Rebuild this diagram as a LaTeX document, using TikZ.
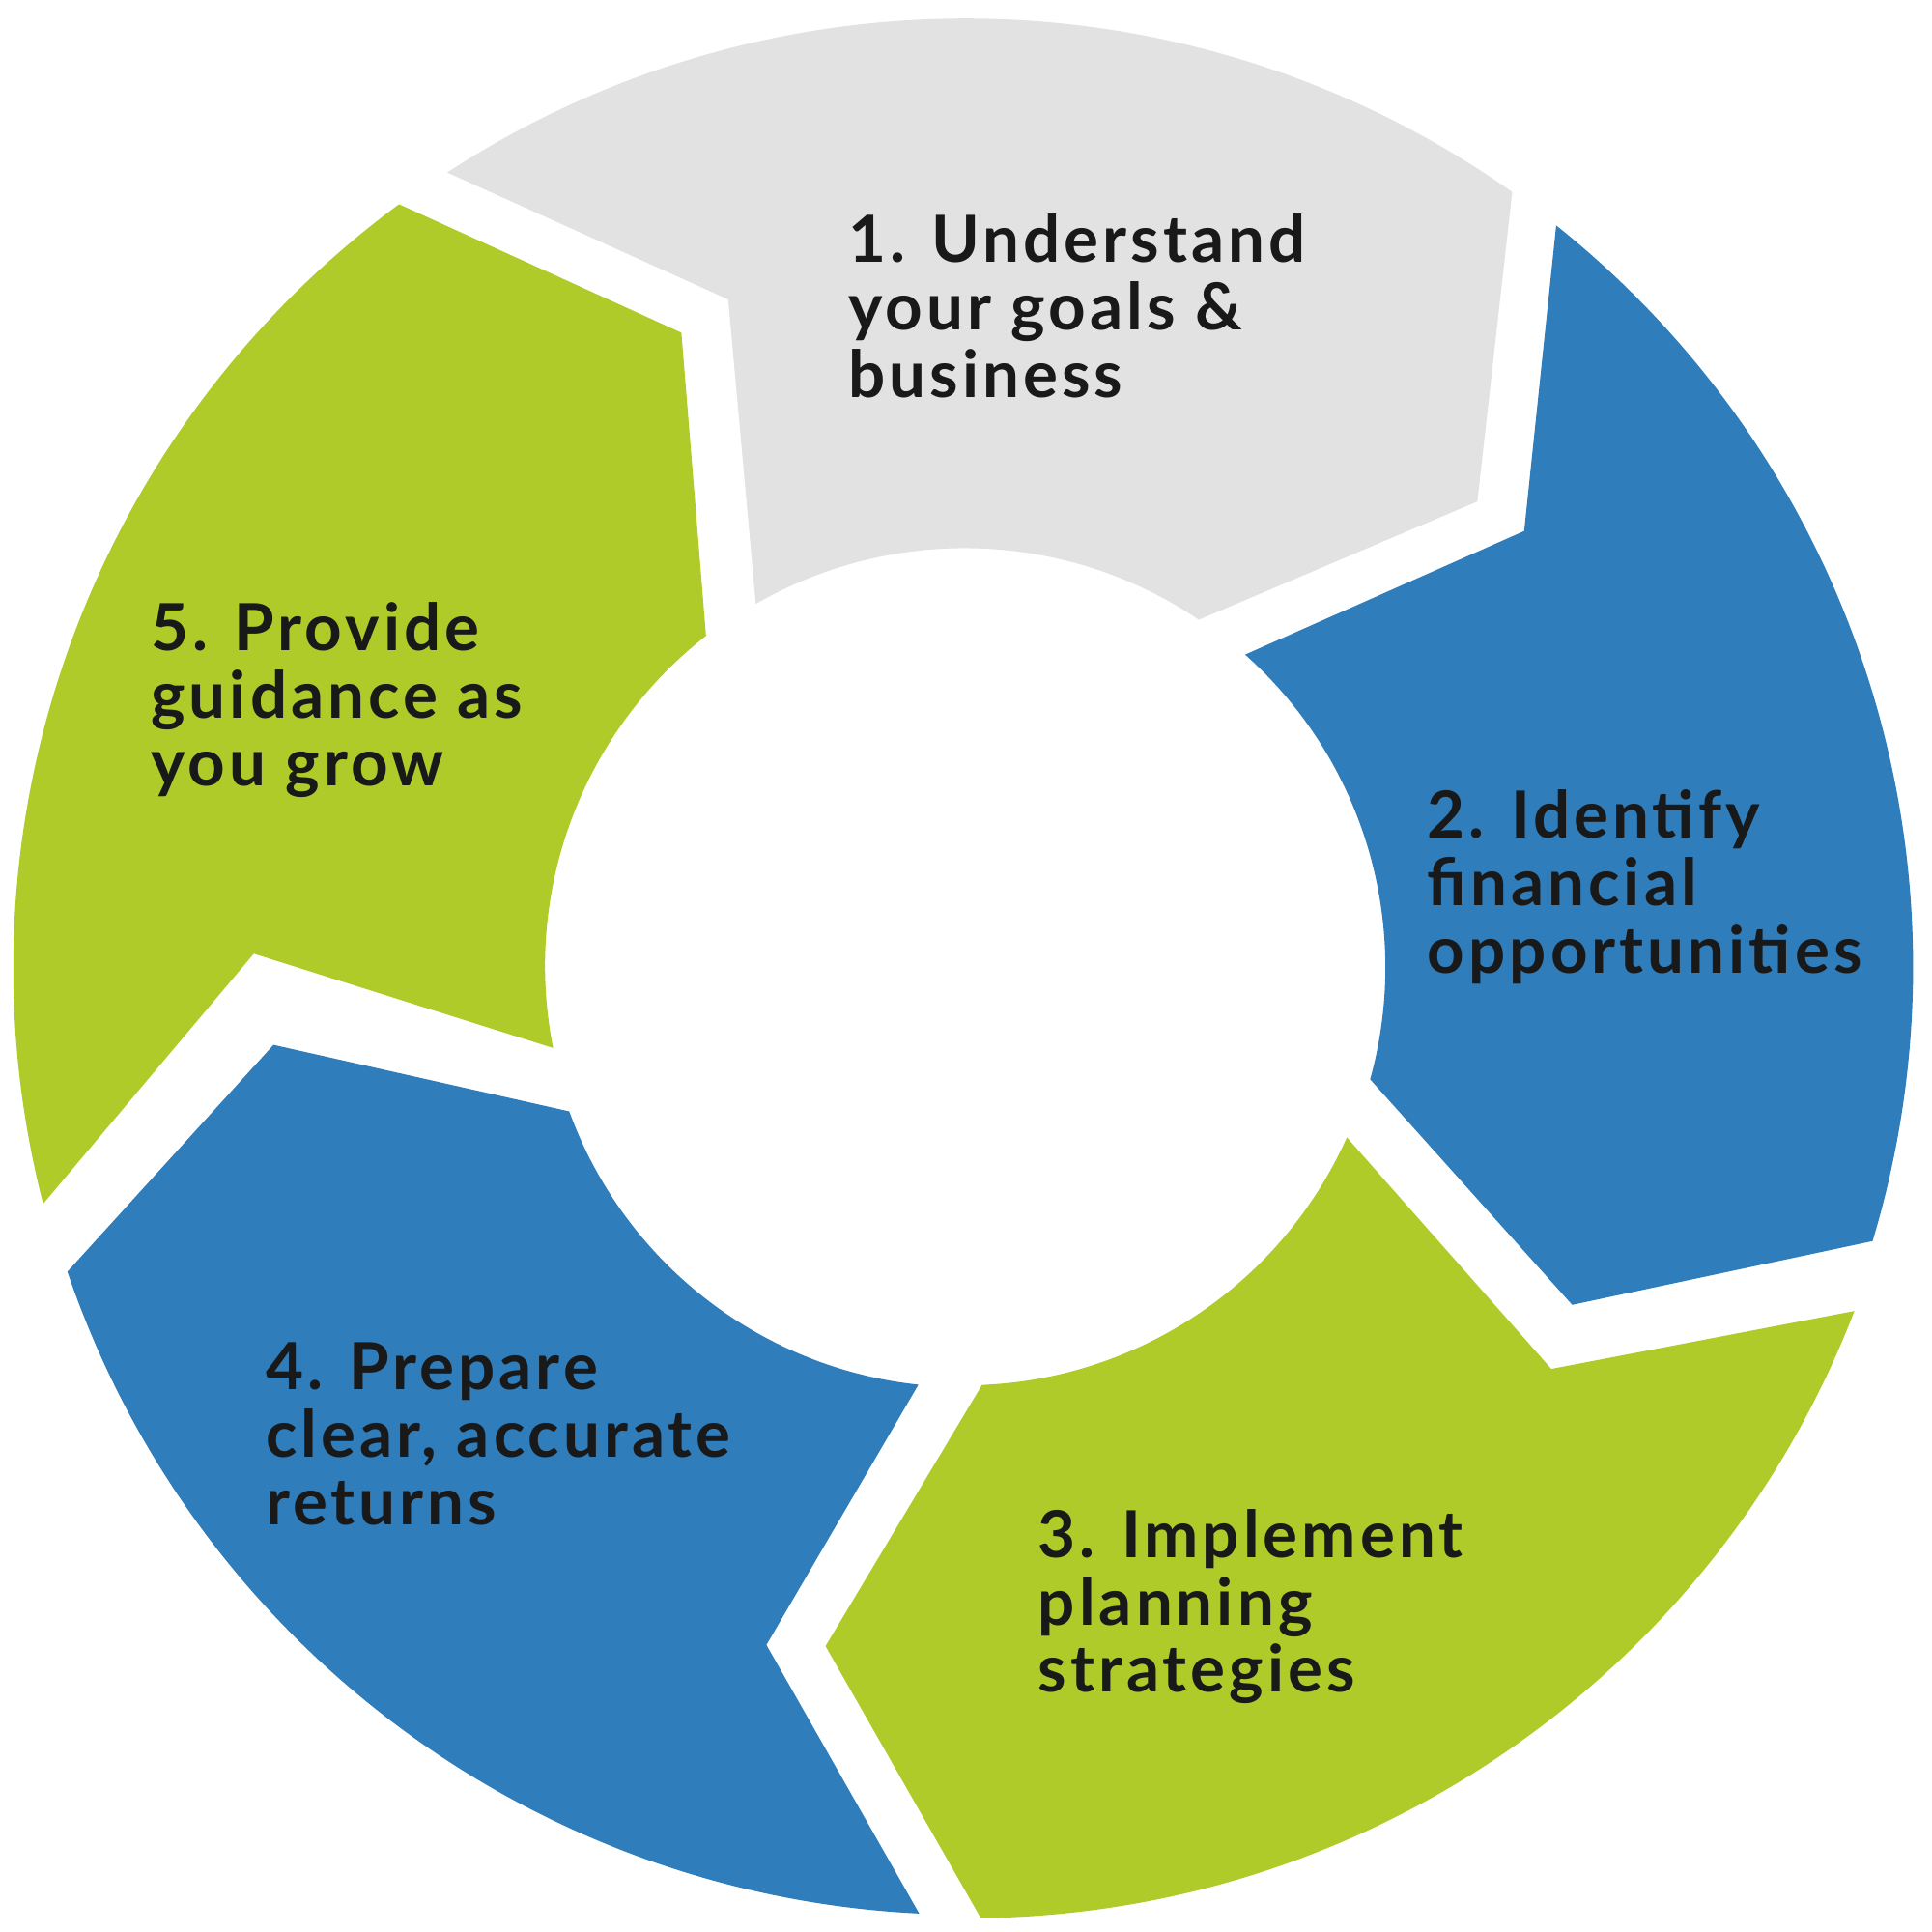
\documentclass[tikz,border=0pt]{standalone}
\usepackage{fontspec}
\setmainfont{Lato}[LetterSpace=6]
\definecolor{segGray}{HTML}{E2E2E2}
\definecolor{segBlue}{HTML}{2F7DBB}
\definecolor{segGreen}{HTML}{AFCB29}
\tikzset{
  steplabel/.style={anchor=north west,inner sep=0pt,align=left,
    font=\fontsize{15pt}{15.6pt}\selectfont\bfseries,text=black!90}
}
\begin{document}
\begin{tikzpicture}
  \useasboundingbox (-7.83,-7.83) rectangle (7.85,7.85);
  % segments
  \fill[segGray] (-4.20,6.45) arc[start angle=123.1,end angle=54.8,radius=7.7]
    -- (4.16,3.78) -- (1.90,2.82) arc[start angle=56.0,end angle=119.9,radius=3.4]
    -- (-1.92,5.42) -- cycle;
  \fill[segBlue] (4.80,6.02) arc[start angle=51.4,end angle=-16.8,radius=7.7]
    -- (4.93,-2.74) -- (3.29,-0.91) arc[start angle=-15.5,end angle=48.3,radius=3.4]
    -- (4.54,3.54) -- cycle;
  \fill[segGreen] (7.22,-2.79) arc[start angle=-21.1,end angle=-89.3,radius=7.7]
    -- (-1.13,-5.51) -- (0.14,-3.39) arc[start angle=-87.6,end angle=-24.1,radius=3.4]
    -- (4.76,-3.26) -- cycle;
  \fill[segBlue] (-0.37,-7.68) arc[start angle=267.2,end angle=198.8,radius=7.7]
    -- (-5.61,-0.63) -- (-3.21,-1.17) arc[start angle=200.0,end angle=263.9,radius=3.4]
    -- (-1.61,-5.50) -- cycle;
  \fill[segGreen] (-7.48,-1.92) arc[start angle=194.4,end angle=126.4,radius=7.7]
    -- (-2.30,5.15) -- (-2.10,2.69) arc[start angle=128.0,end angle=191.3,radius=3.4]
    -- (-5.77,0.11) -- cycle;
  % labels
  \node[steplabel] (understand) at (-0.95,6.12) {1. Understand\\your goals \&\\business};
  \node[steplabel] (identify) at (3.75,1.45) {2. Identify\\financial\\opportunities};
  \node[steplabel] (implement) at (0.59,-4.39) {3. Implement\\planning\\strategies};
  \node[steplabel] (prepare) at (-5.68,-3.04) {4. Prepare\\clear, accurate\\returns};
  \node[steplabel] (provide) at (-6.61,2.97) {5. Provide\\guidance as\\you grow};
\end{tikzpicture}
\end{document}
